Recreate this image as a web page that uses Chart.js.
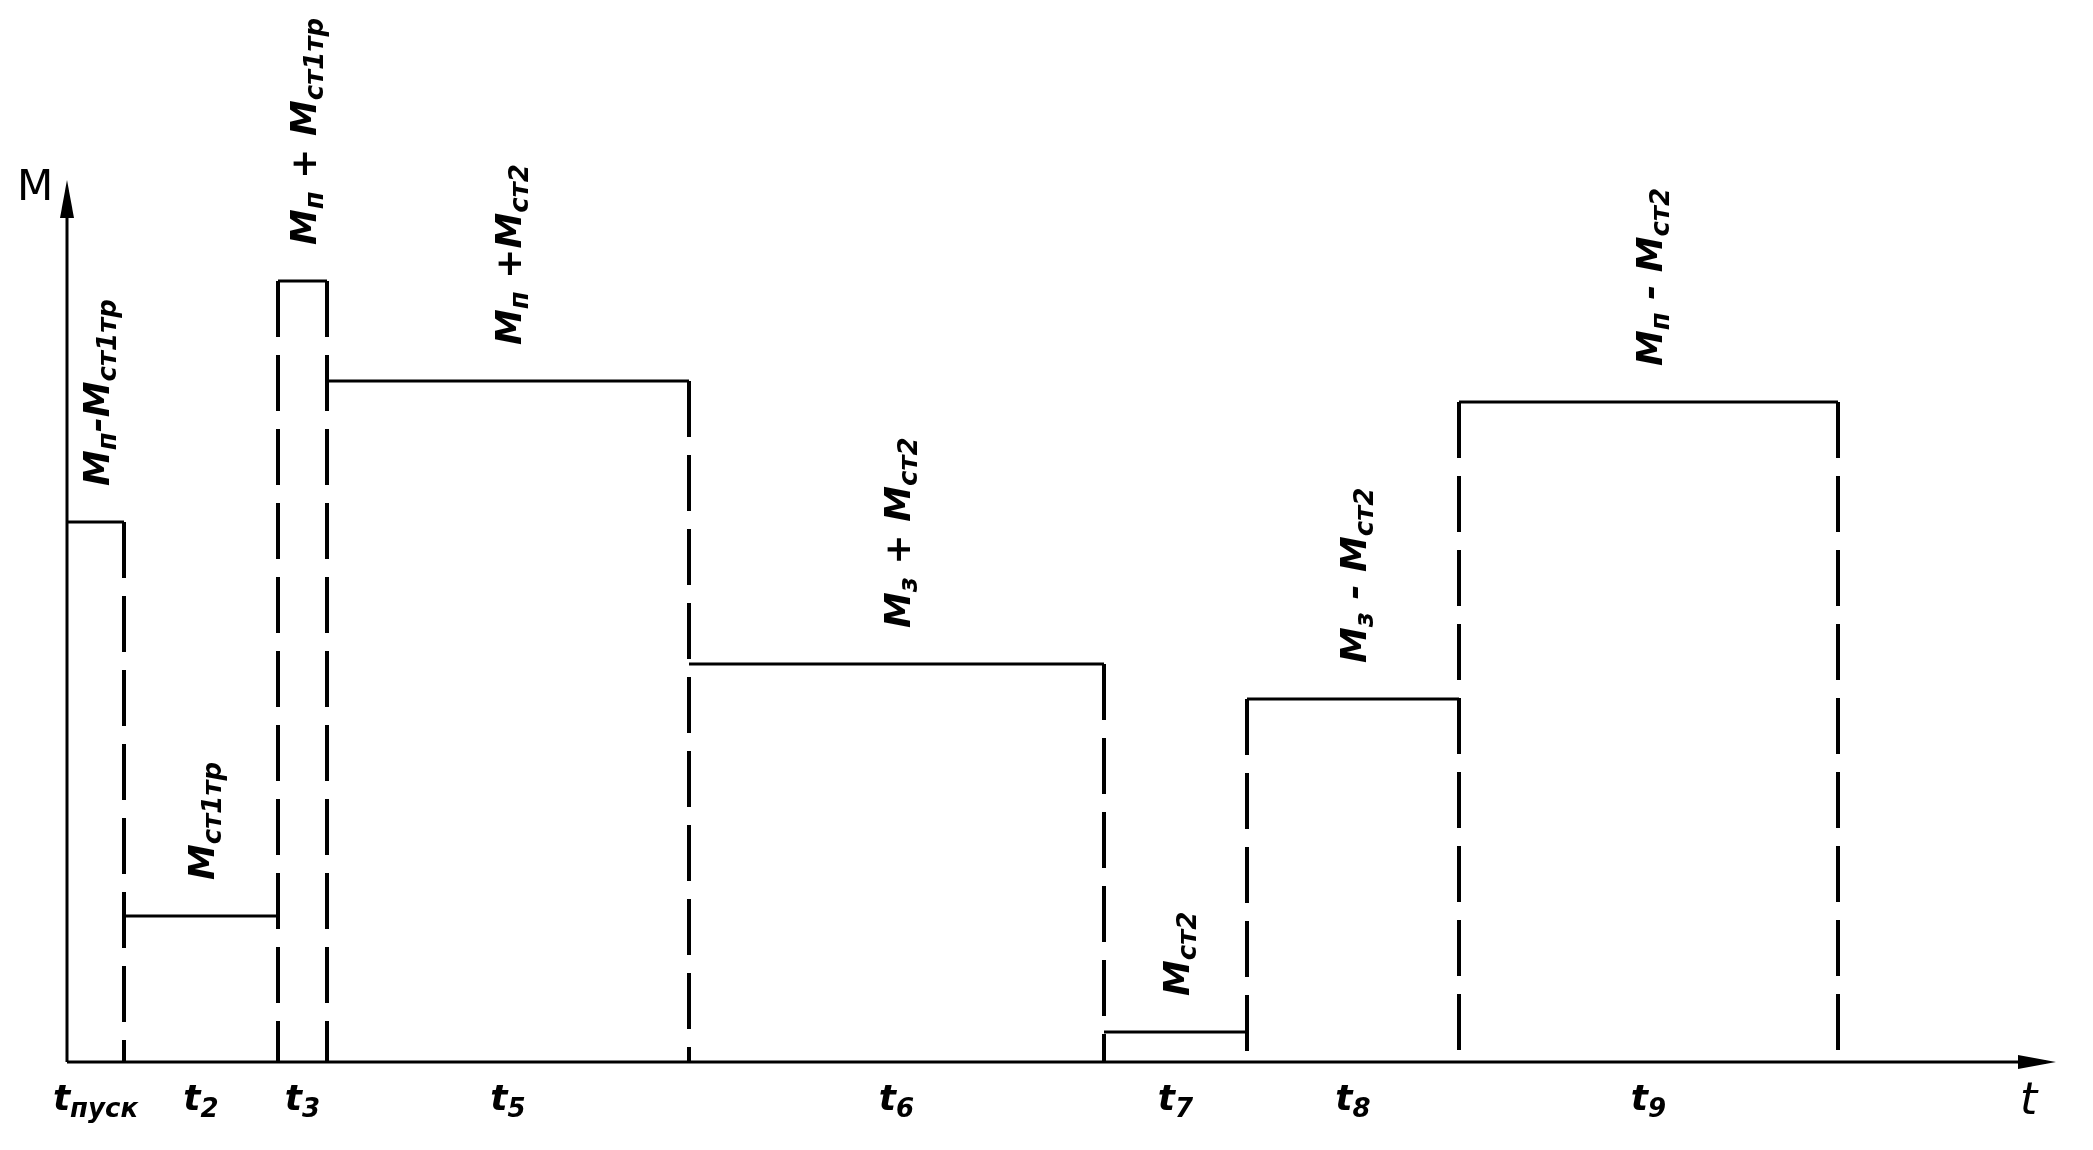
<!DOCTYPE html>
<html lang="ru">
<head>
<meta charset="utf-8">
<title>Нагрузочная диаграмма</title>
<script src="https://cdn.jsdelivr.net/npm/chart.js@4.4.1/dist/chart.umd.min.js"></script>
<style>
    html, body { margin: 0; padding: 0; background: #fff; }
</style>
</head>
<body>
<canvas id="loadChart" width="2093" height="1150"></canvas>
<script>
// Bornes des intervalles sur l'axe t (unités du dessin)
const boundaries = [0, 57, 211, 260, 622, 1037, 1180, 1392, 1771];
// Moment sur chaque intervalle
const levels = [540, 146, 781, 681, 398, 30, 363, 660];
// Étiquettes des moments ('_' ouvre un indice)
const momentLabels = ['M_п-M_ст1тр', 'M_ст1тр', 'M_п + M_ст1тр', 'M_п +M_ст2', 'M_з + M_ст2', 'M_ст2', 'M_з - M_ст2', 'M_п - M_ст2'];
// Étiquettes des intervalles
const intervalLabels = ['t_пуск', 't_2', 't_3', 't_5', 't_6', 't_7', 't_8', 't_9'];
// Longueur des axes
const tMax = 1989;
const mMax = 882;

const MAIN_FONT = 'italic bold 36px "DejaVu Sans"';
const SUB_FONT = 'italic bold 26px "DejaVu Sans"';

/**
 * Paliers horizontaux (un segment par intervalle, séparés par des trous)
 */
function buildLevelData() {
    const pts = [];
    levels.forEach((m, i) => {
        pts.push({ x: boundaries[i], y: m }, { x: boundaries[i + 1], y: m }, { x: boundaries[i + 1], y: null });
    });
    return pts;
}

/**
 * Limites verticales en tirets, du haut du palier le plus élevé jusqu'à l'axe
 */
function buildDashData() {
    const pts = [];
    for (let i = 1; i < boundaries.length; i++) {
        const left = levels[i - 1];
        const right = i < levels.length ? levels[i] : 0;
        pts.push({ x: boundaries[i], y: Math.max(left, right) }, { x: boundaries[i], y: 0 }, { x: boundaries[i], y: null });
    }
    return pts;
}

// Découpe "M_ст2" en morceaux normaux / indices
function parseRuns(text) {
    const runs = [];
    let cur = { sub: false, s: '' };
    for (const ch of text) {
        if (ch === '_') {
            if (cur.s) runs.push(cur);
            cur = { sub: true, s: '' };
            continue;
        }
        if (cur.sub && ' +-'.includes(ch)) {
            runs.push(cur);
            cur = { sub: false, s: '' };
        }
        cur.s += ch;
    }
    if (cur.s) runs.push(cur);
    return runs;
}

function richWidth(ctx, runs) {
    return runs.reduce((w, r) => {
        ctx.font = r.sub ? SUB_FONT : MAIN_FONT;
        return w + ctx.measureText(r.s).width;
    }, 0);
}

function drawRich(ctx, runs, x, y) {
    let cx = x;
    runs.forEach(r => {
        ctx.font = r.sub ? SUB_FONT : MAIN_FONT;
        ctx.fillText(r.s, cx, r.sub ? y + 7 : y);
        cx += ctx.measureText(r.s).width;
    });
}

const diagramDecor = {
    id: 'diagramDecor',
    afterDatasetsDraw(chart) {
        const { ctx, scales: { x, y } } = chart;
        const x0 = x.getPixelForValue(0);
        const y0 = y.getPixelForValue(0);
        const xEnd = x.getPixelForValue(tMax);
        const yEnd = y.getPixelForValue(mMax);

        ctx.save();
        ctx.strokeStyle = '#000';
        ctx.fillStyle = '#000';
        ctx.lineWidth = 3;
        ctx.setLineDash([]);

        // Axes
        ctx.beginPath();
        ctx.moveTo(x0, y0);
        ctx.lineTo(xEnd - 10, y0);
        ctx.moveTo(x0, y0);
        ctx.lineTo(x0, yEnd + 10);
        ctx.stroke();

        // Flèches
        ctx.beginPath();
        ctx.moveTo(x0, yEnd);
        ctx.lineTo(x0 - 7, yEnd + 38);
        ctx.lineTo(x0 + 7, yEnd + 38);
        ctx.closePath();
        ctx.fill();
        ctx.beginPath();
        ctx.moveTo(xEnd, y0);
        ctx.lineTo(xEnd - 38, y0 - 7);
        ctx.lineTo(xEnd - 38, y0 + 7);
        ctx.closePath();
        ctx.fill();

        ctx.textBaseline = 'alphabetic';

        // Noms des axes
        ctx.font = '42px "DejaVu Sans"';
        ctx.fillText('M', x0 - 50, yEnd + 20);
        ctx.font = 'italic 44px "DejaVu Sans"';
        ctx.fillText('t', xEnd - 36, y0 + 52);

        // Étiquettes des intervalles sous l'axe
        intervalLabels.forEach((lbl, i) => {
            const runs = parseRuns(lbl);
            const cx = x.getPixelForValue((boundaries[i] + boundaries[i + 1]) / 2);
            const w = richWidth(ctx, runs);
            drawRich(ctx, runs, cx - w / 2, y0 + 48);
        });

        // Étiquettes des moments, tournées de 90°
        momentLabels.forEach((lbl, i) => {
            const runs = parseRuns(lbl);
            const cx = x.getPixelForValue((boundaries[i] + boundaries[i + 1]) / 2);
            const base = y.getPixelForValue(levels[i]) - 36;
            ctx.save();
            ctx.translate(cx, base);
            ctx.rotate(-Math.PI / 2);
            drawRich(ctx, runs, 0, 13);
            ctx.restore();
        });

        ctx.restore();
    }
};

new Chart(document.getElementById('loadChart'), {
    type: 'line',
    data: {
        datasets: [
            {
                label: 'M',
                data: buildLevelData(),
                borderColor: '#000',
                borderWidth: 3,
                pointRadius: 0,
                spanGaps: false,
                clip: false
            },
            {
                label: 'limites',
                data: buildDashData(),
                borderColor: '#000',
                borderWidth: 4,
                borderDash: [56, 18],
                pointRadius: 0,
                spanGaps: false,
                clip: false
            }
        ]
    },
    options: {
        responsive: false,
        devicePixelRatio: 1,
        animation: false,
        layout: {
            padding: { left: 67, right: 37, top: 180, bottom: 88 }
        },
        plugins: {
            legend: { display: false },
            tooltip: { enabled: false }
        },
        scales: {
            x: { type: 'linear', min: 0, max: tMax, display: false },
            y: { type: 'linear', min: 0, max: mMax, display: false }
        }
    },
    plugins: [diagramDecor]
});
</script>
</body>
</html>
